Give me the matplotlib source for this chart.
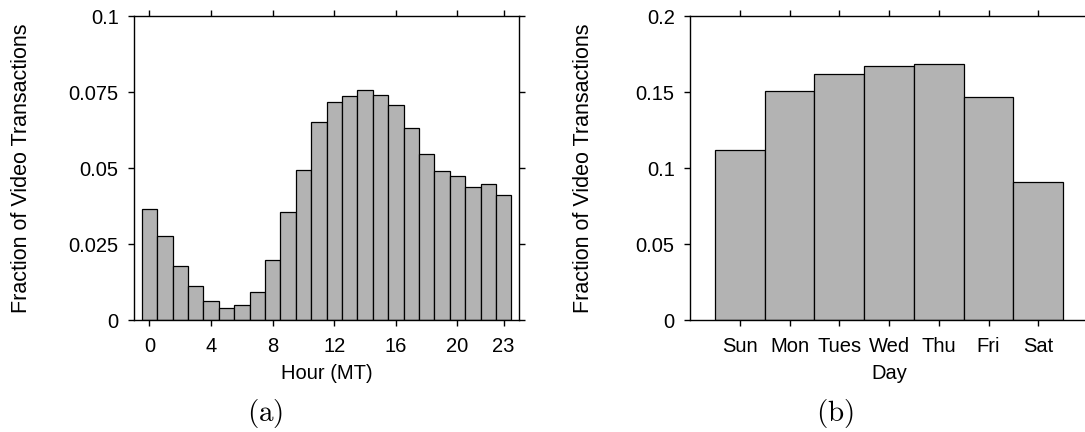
import matplotlib
matplotlib.use("Agg")
import matplotlib.pyplot as plt

# ----- data -----
hours = list(range(24))
hour_frac = [0.0364, 0.0277, 0.0179, 0.0111, 0.0063, 0.0038, 0.0048, 0.0093,
             0.0197, 0.0354, 0.0492, 0.0650, 0.0718, 0.0738, 0.0755, 0.0741,
             0.0706, 0.0630, 0.0546, 0.0491, 0.0473, 0.0439, 0.0448, 0.0411]
hour_ticks = [0, 4, 8, 12, 16, 20, 23]

days = ["Sun", "Mon", "Tues", "Wed", "Thu", "Fri", "Sat"]
day_frac = [0.1121, 0.1504, 0.1616, 0.1669, 0.1686, 0.1469, 0.0908]

BAR_COLOR = "#b3b3b3"
# ---------------------------------------

plt.rcParams["font.family"] = ["Liberation Sans", "DejaVu Sans"]
plt.rcParams["mathtext.fontset"] = "cm"

W, H = 1085, 432
fig = plt.figure(figsize=(W / 100, H / 100), dpi=100)


def px_axes(left, top, right, bottom):
    return fig.add_axes([left / W, 1 - bottom / H, (right - left) / W, (bottom - top) / H])


def style_axes(ax, ylabel_pad):
    for s in ax.spines.values():
        s.set_linewidth(1.0)
    ax.tick_params(direction="out", length=4, width=1.0, labelsize=14.5,
                   top=True, right=True, labeltop=False, labelright=False)
    ax.tick_params(axis="x", pad=8)
    ax.tick_params(axis="y", pad=7)
    ax.set_ylabel("Fraction of Video Transactions", fontsize=15.5, labelpad=ylabel_pad)


# (a) hour of day
ax1 = px_axes(134, 16, 519, 320)
ax1.bar(hours, hour_frac, width=1.0, color=BAR_COLOR, edgecolor="black", linewidth=0.9)
ax1.set_xlim(-1, 24)
ax1.set_ylim(0, 0.1)
ax1.set_xticks(hour_ticks)
ax1.set_yticks([0, 0.025, 0.05, 0.075, 0.1])
ax1.set_yticklabels(["0", "0.025", "0.05", "0.075", "0.1"])
style_axes(ax1, 26)
ax1.set_xlabel("Hour (MT)", fontsize=14.5, labelpad=6)

# (b) day of week
ax2 = px_axes(690, 16, 1088, 320)
ax2.bar(range(len(days)), day_frac, width=1.0, color=BAR_COLOR, edgecolor="black", linewidth=0.9)
ax2.set_xlim(-1, 7)
ax2.set_ylim(0, 0.2)
ax2.set_xticks(range(len(days)))
ax2.set_xticklabels(days)
ax2.set_yticks([0, 0.05, 0.1, 0.15, 0.2])
ax2.set_yticklabels(["0", "0.05", "0.1", "0.15", "0.2"])
style_axes(ax2, 30)
ax2.set_xlabel("Day", fontsize=14.5, labelpad=6)

fig.text(265 / W, 1 - 414 / H, r"$\mathrm{(a)}$", fontsize=21, ha="center", va="center")
fig.text(835 / W, 1 - 414 / H, r"$\mathrm{(b)}$", fontsize=21, ha="center", va="center")

fig.savefig("out.png", dpi=100)
